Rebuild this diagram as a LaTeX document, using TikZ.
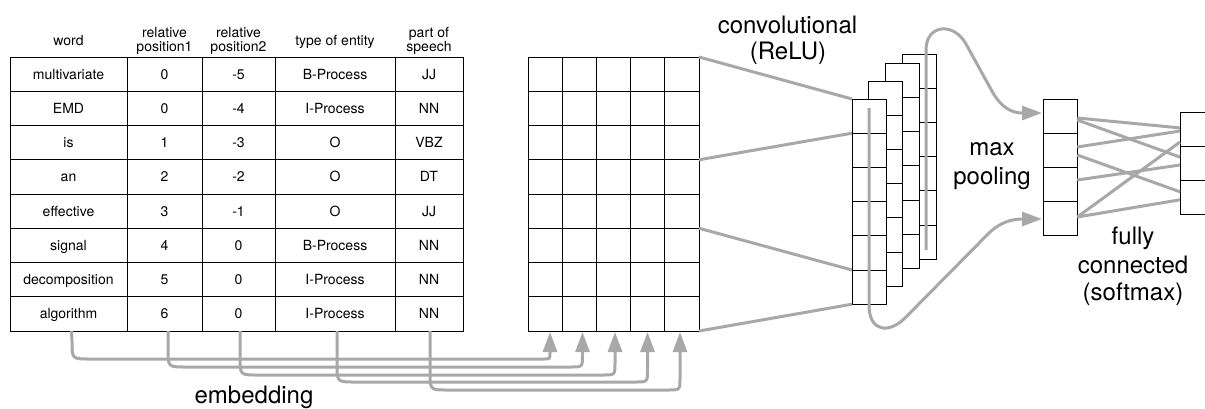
\documentclass[tikz,border=0pt]{standalone}
\usepackage{fontspec}
\setmainfont{TeX Gyre Heros}
\usetikzlibrary{arrows.meta,calc}
\definecolor{lg}{RGB}{168,168,168}
\newcommand\tabrow[6]{%
  \pgfmathsetmacro\ty{57+(#1-1)*34.25}
  \node[tcell, minimum width=117pt] (t-#1-1) at (10,\ty) {#2};
  \node[tcell, minimum width=75pt] (t-#1-2) at (127,\ty) {#3};
  \node[tcell, minimum width=73pt] (t-#1-3) at (202,\ty) {#4};
  \node[tcell, minimum width=120pt] (t-#1-4) at (275,\ty) {#5};
  \node[tcell, minimum width=68pt] (t-#1-5) at (395,\ty) {#6};
}
\begin{document}
\begin{tikzpicture}[x=1pt,y=-1pt,
  box/.style={draw=black, line width=0.9pt, fill=white, inner sep=0pt, outer sep=0pt, anchor=north west},
  tcell/.style={box, minimum height=34.25pt, text height=10pt, text depth=0pt, font=\fontsize{14}{16}\selectfont},
  htxt/.style={anchor=base, inner sep=0pt, font=\fontsize{14}{16}\selectfont},
  gcell/.style={box, minimum width=34.2pt, minimum height=34.25pt},
  mcell/.style={box, minimum width=34pt, minimum height=34.2pt},
  pcell/.style={box, minimum width=34.3pt, minimum height=34pt},
  ocell/.style={box, minimum width=40pt, minimum height=34.2pt},
  lbl/.style={anchor=base, inner sep=0pt, font=\fontsize{24}{28}\selectfont},
  conn/.style={draw=lg, line width=3pt},
  tip/.style={-{Triangle[length=20pt,width=14pt]}},
]
\useasboundingbox (0,0) rectangle (1205,408);

% ---------- table header ----------
\node[htxt] (h1) at (68.5,45) {word};
\node[htxt] (h2a) at (164.5,37) {relative};
\node[htxt] (h2b) at (164.5,51.5) {position1};
\node[htxt] (h3a) at (238.5,37) {relative};
\node[htxt] (h3b) at (238.5,51.5) {position2};
\node[htxt] (h4) at (335,45) {type of entity};
\node[htxt] (h5a) at (429,37) {part of};
\node[htxt] (h5b) at (429,51.5) {speech};

% ---------- table ----------
\tabrow{1}{multivariate}{0}{-5}{B-Process}{JJ}
\tabrow{2}{EMD}{0}{-4}{I-Process}{NN}
\tabrow{3}{is}{1}{-3}{O}{VBZ}
\tabrow{4}{an}{2}{-2}{O}{DT}
\tabrow{5}{effective}{3}{-1}{O}{JJ}
\tabrow{6}{signal}{4}{0}{B-Process}{NN}
\tabrow{7}{decomposition}{5}{0}{I-Process}{NN}
\tabrow{8}{algorithm}{6}{0}{I-Process}{NN}

% ---------- embedding matrix ----------
\foreach \r in {1,...,8}
  \foreach \c in {1,...,5}
    \node[gcell] (g-\r-\c) at ({528+(\c-1)*34.2},{57+(\r-1)*34.25}) {};

% ---------- convolution connectors ----------
\draw[conn] (g-1-5.north east) -- (852,99) coordinate (k1);
\draw[conn] (g-3-5.south east) -- (852,133.2) coordinate (k2);
\draw[conn] (g-5-5.south east) -- (852,270) coordinate (k3);
\draw[conn] (g-8-5.south east) -- (852,304.2) coordinate (k4);

% ---------- feature maps (back to front) ----------
\foreach \m/\mx/\my in {4/902/54, 3/885/63.3, 2/868/81, 1/852/99}
  \foreach \k in {1,...,6}
    \node[mcell] (m\m-\k) at (\mx,{\my+(\k-1)*34.2}) {};

% ---------- max pooling vector ----------
\foreach \k in {1,...,4}
  \node[pcell] (p-\k) at (1043,{99+(\k-1)*34}) {};

% ---------- output vector (cut by the right edge) ----------
\begin{scope}
  \clip (0,0) rectangle (1205,408);
  \foreach \k in {1,...,3}
    \node[ocell] (o-\k) at (1180,{112.3+(\k-1)*34.2}) {};
\end{scope}

% ---------- fully connected ----------
\draw[conn] ($(p-1.east)+(0,2)$) -- ($(o-1.west)+(0,-1.5)$);
\draw[conn] ($(p-1.east)+(0,4)$) -- ($(o-2.west)+(0,-6.5)$);
\draw[conn] ($(p-2.east)+(0,-3)$) -- ($(o-1.west)+(0,1.6)$);
\draw[conn] ($(p-2.east)+(0,5)$) -- ($(o-3.west)+(0,-6)$);
\draw[conn] ($(p-3.east)+(0,-4)$) -- ($(o-2.west)+(0,1.4)$);
\draw[conn] ($(p-4.east)+(0,-1)$) -- ($(o-1.west)+(0,12.6)$);
\draw[conn] ($(p-4.east)+(0,-1)$) -- ($(o-3.west)+(0,2)$);

% ---------- max pooling connectors ----------
\draw[conn, tip] ($(m4-6.south)+(7,-9)$) -- (926,50)
  .. controls (926,24) and (954,22) .. (966,44) -- (993,93)
  .. controls (1002,108) and (1012,113) .. ($(p-1.west)+(-1,-3)$);
\draw[conn, tip] ($(m1-1.north)+(0,9)$) -- (869,305)
  .. controls (869,332) and (889,334) .. (905,318) -- (988,234)
  .. controls (1000,222) and (1012,219) .. ($(p-4.west)+(-1,1)$);

% ---------- embedding connectors ----------
\draw[conn, tip] ($(t-8-1.south)+(3,0)$) -- (72,341) .. controls (72,359) .. (90,359)
  -- (544,359) .. controls (550,359) .. (550,353) -- ($(g-8-1.south)+(4.9,1)$);
\draw[conn, tip] ($(t-8-2.south)+(3.5,0)$) -- (168,349) .. controls (168,367) .. (186,367)
  -- (570.5,367) .. controls (582.5,367) .. (582.5,355) -- ($(g-8-2.south)+(3.2,1)$);
\draw[conn, tip] ($(t-8-3.south)+(1.5,0)$) -- (240,357) .. controls (240,375) .. (258,375)
  -- (603,375) .. controls (615,375) .. (615,363) -- ($(g-8-3.south)+(1.5,1)$);
\draw[conn, tip] ($(t-8-4.south)+(2,0)$) -- (337,364) .. controls (337,382) .. (355,382)
  -- (635.5,382) .. controls (647.5,382) .. (647.5,370) -- ($(g-8-4.south)+(-0.2,1)$);
\draw[conn, tip] ($(t-8-5.south)+(1,0)$) -- (430,372) .. controls (430,390) .. (448,390)
  -- (668,390) .. controls (680,390) .. (680,378) -- ($(g-8-5.south)+(-1.9,1)$);

% ---------- labels ----------
\node[lbl] (lc1) at (787.5,33) {convolutional};
\node[lbl] (lc2) at (788,59) {(ReLU)};
\node[lbl] (lm1) at (992,155) {max};
\node[lbl] (lm2) at (992,184) {pooling};
\node[lbl] (lf1) at (1133,244) {fully};
\node[lbl] (lf2) at (1133,273) {connected};
\node[lbl] (lf3) at (1133,300.5) {(softmax)};
\node[lbl] (le) at (254,403) {embedding};
\end{tikzpicture}
\end{document}
